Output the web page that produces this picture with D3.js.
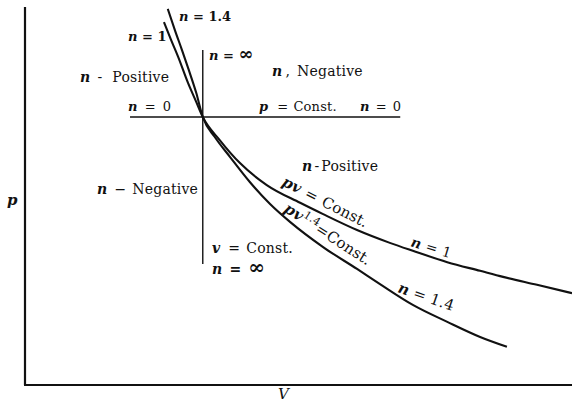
<!DOCTYPE html>
<html><head><meta charset="utf-8">
<script src="https://cdn.jsdelivr.net/npm/d3@7"></script>
<style>
html,body{margin:0;padding:0;background:#fff;}
svg{display:block;}
text{font-family:"DejaVu Serif","Liberation Serif",serif;fill:#111;}
.it{font-style:italic;font-weight:bold;}
</style></head>
<body>
<svg id="c" width="572" height="404"></svg>
<script>
// pv = Const. (n = 1)
const isoV = [25.4, 26.7, 28.0, 29.8, 31.3, 32.5, 35.6, 39.3, 44.2, 50.3, 54.5, 60.7, 66.7, 70.9, 77.2, 83.2, 87.4, 93.6, 100];
const isoP = [96.0, 91.3, 86.8, 79.9, 74.9, 70.9, 64.8, 58.7, 52.9, 48.2, 45.2, 41.0, 37.6, 35.5, 32.5, 30.2, 28.6, 26.5, 24.3];
// pv^1.4 = Const. (n = 1.4)
const adiV = [26.1, 27.4, 28.7, 30.0, 31.3, 32.5, 34.7, 37.5, 41.1, 44.8, 48.5, 54.5, 60.7, 64.9, 70.9, 77.2, 83.2, 88.1];
const adiP = [99.5, 93.9, 88.6, 83.1, 77.3, 70.9, 65.6, 60.3, 53.7, 47.9, 43.1, 36.5, 30.7, 26.7, 21.2, 16.7, 12.7, 10.1];
// p = Const. line and v = Const. line
const pConst = 70.9, pConstV = [19.2, 68.6];
const vConst = 32.5, vConstP = [32.0, 88.6];
const axisV = [0, 100], axisP = [0, 100];

const svg = d3.select("#c");
const x = d3.scaleLinear().domain(axisV).range([25, 572]);
const y = d3.scaleLinear().domain(axisP).range([385, 7]);

// axes
svg.append("line").attr("x1", x(0)).attr("y1", y(100)).attr("x2", x(0)).attr("y2", y(0))
  .attr("stroke", "#111").attr("stroke-width", 2.2);
svg.append("line").attr("x1", x(0) - 1).attr("y1", y(0)).attr("x2", x(100)).attr("y2", y(0))
  .attr("stroke", "#111").attr("stroke-width", 2.2);

// reference lines
svg.append("line").attr("x1", x(pConstV[0])).attr("x2", x(pConstV[1]))
  .attr("y1", y(pConst)).attr("y2", y(pConst)).attr("stroke", "#111").attr("stroke-width", 1.4);
svg.append("line").attr("x1", x(vConst)).attr("x2", x(vConst))
  .attr("y1", y(vConstP[0])).attr("y2", y(vConstP[1])).attr("stroke", "#111").attr("stroke-width", 1.4);

const line = d3.line().x(d => x(d[0])).y(d => y(d[1])).curve(d3.curveMonotoneX);
svg.append("path").attr("d", line(d3.zip(isoV, isoP))).attr("fill", "none")
  .attr("stroke", "#111").attr("stroke-width", 2.1);
svg.append("path").attr("d", line(d3.zip(adiV, adiP))).attr("fill", "none")
  .attr("stroke", "#111").attr("stroke-width", 2.1);

// labels: parts [text, italic?, superscript?, size, dx]
function label(px, py, parts, opts = {}) {
  const t = svg.append("text").attr("x", px).attr("y", py)
    .attr("font-size", opts.size || 14)
    .attr("letter-spacing", opts.ls == null ? 0.2 : opts.ls);
  if (opts.rot) t.attr("transform", `rotate(${opts.rot},${px},${py})`);
  if (opts.bold) t.attr("font-weight", "bold");
  parts.forEach(p => {
    const s = t.append("tspan").text(p[0]);
    if (p[1]) s.attr("class", "it");
    if (p[2]) s.attr("baseline-shift", "super").attr("font-size", 11);
    if (p[3]) s.attr("font-size", p[3]);
    if (p[4]) s.attr("dx", p[4]);
  });
  return t;
}
label(179, 21, [["n", 1], [" = 1.4"]], {bold: true, size: 13, ls: 0});
label(128, 41, [["n", 1], [" = 1"]], {bold: true, size: 13, ls: 0});
label(80, 82, [["n", 1], ["-", 0, 0, 0, 7], ["Positive", 0, 0, 0, 10]]);
label(128, 111, [["n", 1], ["=", 0, 0, 0, 7], ["0", 0, 0, 0, 7]], {size: 13});
label(209, 60, [["n", 1], [" = "], ["∞", 0, 0, 18]], {bold: true, size: 13, ls: 0});
label(272, 76, [["n", 1], [",", 0, 0, 0, 3], ["Negative", 0, 0, 0, 7]]);
label(259, 111, [["p", 1], ["=", 0, 0, 0, 9], ["Const.", 0, 0, 0, 5]], {size: 13});
label(360, 111, [["n", 1], ["=", 0, 0, 0, 6], ["0", 0, 0, 0, 6]], {size: 13});
label(302, 171, [["n", 1], ["-", 0, 0, 0, 2], ["Positive", 0, 0, 0, 2]]);
label(97, 194, [["n", 1], ["−", 0, 0, 0, 7], ["Negative", 0, 0, 0, 6]]);
label(212, 253, [["v", 1], ["=", 0, 0, 0, 8], ["Const.", 0, 0, 0, 6]]);
label(212, 274, [["n", 1], ["=", 0, 0, 0, 7], ["∞", 0, 0, 20, 7]], {bold: true});
label(281, 185, [["pv", 1], ["=", 0, 0, 0, 6], ["Const.", 0, 0, 0, 6]], {rot: 27, size: 15});
label(283, 211, [["pv", 1], ["1.4", 0, 1], ["=Const."]], {rot: 33, size: 15});
label(410, 246, [["n", 1], ["=", 0, 0, 0, 5], ["1", 0, 0, 0, 5]], {rot: 17});
label(397, 292, [["n", 1], ["=", 0, 0, 0, 5], ["1.4", 0, 0, 0, 5]], {rot: 19, size: 15});
label(7, 205, [["p", 1]], {size: 15});
label(278, 399, [["V", 0]], {size: 15}).attr("font-style", "italic");
</script>
</body></html>
